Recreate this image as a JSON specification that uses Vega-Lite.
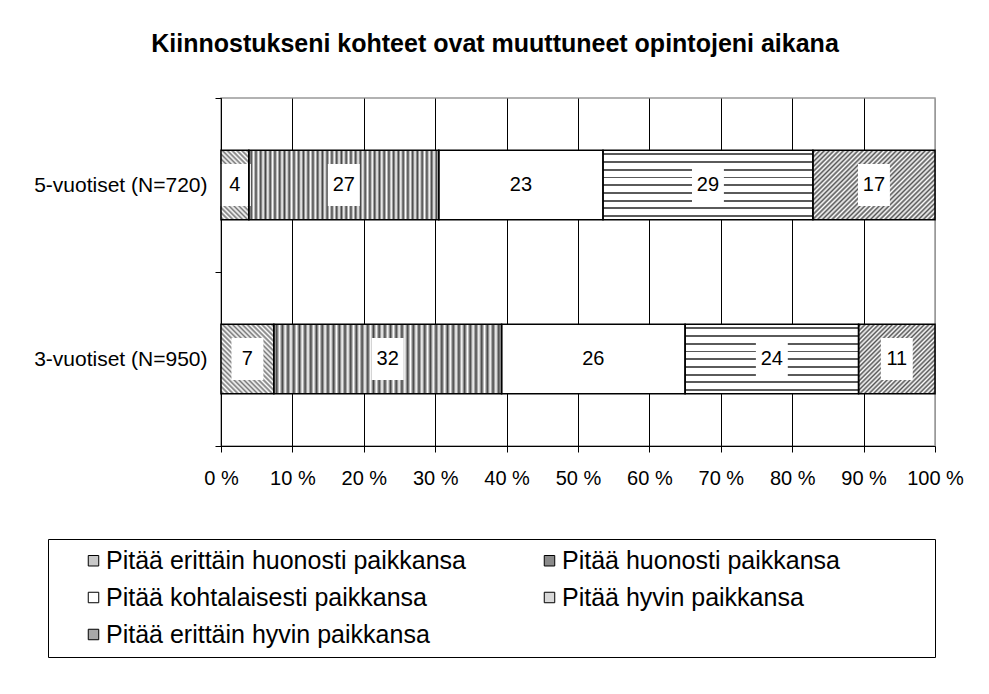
{
  "$schema": "https://vega.github.io/schema/vega-lite/v6.json",
  "width": 714,
  "height": 348,
  "autosize": {"type": "none"},
  "padding": {"left": 221, "top": 98, "right": 54, "bottom": 248},
  "background": "#ffffff",
  "config": {
    "font": "Liberation Sans",
    "view": {"stroke": "#999999", "strokeWidth": 1.5}
  },
  "title": {
    "text": "Kiinnostukseni kohteet ovat muuttuneet opintojeni aikana",
    "fontSize": 25,
    "fontWeight": "bold",
    "font": "Liberation Sans",
    "color": "#000000",
    "anchor": "middle",
    "frame": "group",
    "dx": -83,
    "offset": 30
  },
  "data": {
    "values": [
      {"group": "5-vuotiset (N=720)", "category": "Pitää erittäin huonosti paikkansa", "ord": 1, "pct": 3.9},
      {"group": "5-vuotiset (N=720)", "category": "Pitää huonosti paikkansa", "ord": 2, "pct": 26.6},
      {"group": "5-vuotiset (N=720)", "category": "Pitää kohtalaisesti paikkansa", "ord": 3, "pct": 23.0},
      {"group": "5-vuotiset (N=720)", "category": "Pitää hyvin paikkansa", "ord": 4, "pct": 29.4},
      {"group": "5-vuotiset (N=720)", "category": "Pitää erittäin hyvin paikkansa", "ord": 5, "pct": 17.1},
      {"group": "3-vuotiset (N=950)", "category": "Pitää erittäin huonosti paikkansa", "ord": 1, "pct": 7.4},
      {"group": "3-vuotiset (N=950)", "category": "Pitää huonosti paikkansa", "ord": 2, "pct": 31.9},
      {"group": "3-vuotiset (N=950)", "category": "Pitää kohtalaisesti paikkansa", "ord": 3, "pct": 25.7},
      {"group": "3-vuotiset (N=950)", "category": "Pitää hyvin paikkansa", "ord": 4, "pct": 24.3},
      {"group": "3-vuotiset (N=950)", "category": "Pitää erittäin hyvin paikkansa", "ord": 5, "pct": 10.7}
    ]
  },
  "transform": [
    {"stack": "pct", "groupby": ["group"], "sort": [{"field": "ord"}], "as": ["x0", "x1"]},
    {"calculate": "(datum.x0 + datum.x1) / 2", "as": "xm"}
  ],
  "encoding": {
    "y": {
      "field": "group", "type": "nominal",
      "sort": ["5-vuotiset (N=720)", "3-vuotiset (N=950)"],
      "scale": {"paddingInner": 0, "paddingOuter": 0},
      "axis": {
        "title": null, "domainColor": "#000000", "domainWidth": 1,
        "tickColor": "#000000", "tickSize": 6, "tickBand": "extent",
        "labelFontSize": 21, "labelColor": "#000000", "labelPadding": 8,
        "grid": false
      }
    },
    "x": {
      "field": "x0", "type": "quantitative",
      "scale": {"domain": [0, 100], "nice": false},
      "axis": {
        "title": null,
        "values": [0, 10, 20, 30, 40, 50, 60, 70, 80, 90, 100],
        "labelExpr": "datum.value + ' %'",
        "labelFlush": false,
        "labelFontSize": 20, "labelColor": "#000000", "labelPadding": 16,
        "domainColor": "#000000", "domainWidth": 1,
        "tickColor": "#000000", "tickSize": 6,
        "grid": true,
        "gridColor": {"condition": {"test": "datum.value === 100", "value": "#999999"}, "value": "#000000"},
        "gridWidth": 1, "gridOpacity": 1
      }
    },
    "x2": {"field": "x1"}
  },
  "layer": [
    {
      "transform": [{"filter": "datum.ord === 3"}],
      "mark": {"type": "bar", "height": {"band": 0.4}, "fill": "#ffffff", "strokeWidth": 0}
    },
    {
      "transform": [{"filter": "datum.ord === 2"}],
      "mark": {"type": "bar", "height": {"band": 0.4}, "strokeWidth": 0, "fill": {
        "gradient": "linear", "x1": 0, "y1": 0, "x2": 1, "y2": 0,
        "stops": [
          {"offset": 0, "color": "#fff"}, {"offset": 0.0125, "color": "#444"}, {"offset": 0.025, "color": "#fff"}, {"offset": 0.0375, "color": "#444"},
          {"offset": 0.05, "color": "#fff"}, {"offset": 0.0625, "color": "#444"}, {"offset": 0.075, "color": "#fff"}, {"offset": 0.0875, "color": "#444"},
          {"offset": 0.1, "color": "#fff"}, {"offset": 0.1125, "color": "#444"}, {"offset": 0.125, "color": "#fff"}, {"offset": 0.1375, "color": "#444"},
          {"offset": 0.15, "color": "#fff"}, {"offset": 0.1625, "color": "#444"}, {"offset": 0.175, "color": "#fff"}, {"offset": 0.1875, "color": "#444"},
          {"offset": 0.2, "color": "#fff"}, {"offset": 0.2125, "color": "#444"}, {"offset": 0.225, "color": "#fff"}, {"offset": 0.2375, "color": "#444"},
          {"offset": 0.25, "color": "#fff"}, {"offset": 0.2625, "color": "#444"}, {"offset": 0.275, "color": "#fff"}, {"offset": 0.2875, "color": "#444"},
          {"offset": 0.3, "color": "#fff"}, {"offset": 0.3125, "color": "#444"}, {"offset": 0.325, "color": "#fff"}, {"offset": 0.3375, "color": "#444"},
          {"offset": 0.35, "color": "#fff"}, {"offset": 0.3625, "color": "#444"}, {"offset": 0.375, "color": "#fff"}, {"offset": 0.3875, "color": "#444"},
          {"offset": 0.4, "color": "#fff"}, {"offset": 0.4125, "color": "#444"}, {"offset": 0.425, "color": "#fff"}, {"offset": 0.4375, "color": "#444"},
          {"offset": 0.45, "color": "#fff"}, {"offset": 0.4625, "color": "#444"}, {"offset": 0.475, "color": "#fff"}, {"offset": 0.4875, "color": "#444"},
          {"offset": 0.5, "color": "#fff"}, {"offset": 0.5125, "color": "#444"}, {"offset": 0.525, "color": "#fff"}, {"offset": 0.5375, "color": "#444"},
          {"offset": 0.55, "color": "#fff"}, {"offset": 0.5625, "color": "#444"}, {"offset": 0.575, "color": "#fff"}, {"offset": 0.5875, "color": "#444"},
          {"offset": 0.6, "color": "#fff"}, {"offset": 0.6125, "color": "#444"}, {"offset": 0.625, "color": "#fff"}, {"offset": 0.6375, "color": "#444"},
          {"offset": 0.65, "color": "#fff"}, {"offset": 0.6625, "color": "#444"}, {"offset": 0.675, "color": "#fff"}, {"offset": 0.6875, "color": "#444"},
          {"offset": 0.7, "color": "#fff"}, {"offset": 0.7125, "color": "#444"}, {"offset": 0.725, "color": "#fff"}, {"offset": 0.7375, "color": "#444"},
          {"offset": 0.75, "color": "#fff"}, {"offset": 0.7625, "color": "#444"}, {"offset": 0.775, "color": "#fff"}, {"offset": 0.7875, "color": "#444"},
          {"offset": 0.8, "color": "#fff"}, {"offset": 0.8125, "color": "#444"}, {"offset": 0.825, "color": "#fff"}, {"offset": 0.8375, "color": "#444"},
          {"offset": 0.85, "color": "#fff"}, {"offset": 0.8625, "color": "#444"}, {"offset": 0.875, "color": "#fff"}, {"offset": 0.8875, "color": "#444"},
          {"offset": 0.9, "color": "#fff"}, {"offset": 0.9125, "color": "#444"}, {"offset": 0.925, "color": "#fff"}, {"offset": 0.9375, "color": "#444"},
          {"offset": 0.95, "color": "#fff"}, {"offset": 0.9625, "color": "#444"}, {"offset": 0.975, "color": "#fff"}, {"offset": 0.9875, "color": "#444"},
          {"offset": 1, "color": "#fff"}
        ]
      }}
    },
    {
      "transform": [{"filter": "datum.ord === 4"}],
      "mark": {"type": "bar", "height": {"band": 0.4}, "strokeWidth": 0, "fill": {
        "gradient": "linear", "x1": 0, "y1": 0, "x2": 0, "y2": 1,
        "stops": [
          {"offset": 0.045, "color": "#fff"}, {"offset": 0.045, "color": "#5a5a5a"}, {"offset": 0.072, "color": "#5a5a5a"}, {"offset": 0.072, "color": "#fff"},
          {"offset": 0.1561, "color": "#fff"}, {"offset": 0.1561, "color": "#5a5a5a"}, {"offset": 0.1831, "color": "#5a5a5a"}, {"offset": 0.1831, "color": "#fff"},
          {"offset": 0.2672, "color": "#fff"}, {"offset": 0.2672, "color": "#5a5a5a"}, {"offset": 0.2942, "color": "#5a5a5a"}, {"offset": 0.2942, "color": "#fff"},
          {"offset": 0.3783, "color": "#fff"}, {"offset": 0.3783, "color": "#5a5a5a"}, {"offset": 0.4053, "color": "#5a5a5a"}, {"offset": 0.4053, "color": "#fff"},
          {"offset": 0.4894, "color": "#fff"}, {"offset": 0.4894, "color": "#5a5a5a"}, {"offset": 0.5164, "color": "#5a5a5a"}, {"offset": 0.5164, "color": "#fff"},
          {"offset": 0.6006, "color": "#fff"}, {"offset": 0.6006, "color": "#5a5a5a"}, {"offset": 0.6276, "color": "#5a5a5a"}, {"offset": 0.6276, "color": "#fff"},
          {"offset": 0.7117, "color": "#fff"}, {"offset": 0.7117, "color": "#5a5a5a"}, {"offset": 0.7387, "color": "#5a5a5a"}, {"offset": 0.7387, "color": "#fff"},
          {"offset": 0.8228, "color": "#fff"}, {"offset": 0.8228, "color": "#5a5a5a"}, {"offset": 0.8498, "color": "#5a5a5a"}, {"offset": 0.8498, "color": "#fff"},
          {"offset": 0.9339, "color": "#fff"}, {"offset": 0.9339, "color": "#5a5a5a"}, {"offset": 0.9609, "color": "#5a5a5a"}, {"offset": 0.9609, "color": "#fff"}
        ]
      }}
    },
    {
      "transform": [{"filter": "datum.ord === 1 && datum.group === '5-vuotiset (N=720)'"}],
      "mark": {"type": "bar", "height": {"band": 0.4}, "strokeWidth": 0, "fill": {
        "gradient": "linear", "x1": 0, "y1": 1, "x2": 0.482, "y2": -0.207,
        "stops": [
          {"offset": 0, "color": "#fff"}, {"offset": 0.025, "color": "#777"}, {"offset": 0.05, "color": "#fff"}, {"offset": 0.075, "color": "#777"},
          {"offset": 0.1, "color": "#fff"}, {"offset": 0.125, "color": "#777"}, {"offset": 0.15, "color": "#fff"}, {"offset": 0.175, "color": "#777"},
          {"offset": 0.2, "color": "#fff"}, {"offset": 0.225, "color": "#777"}, {"offset": 0.25, "color": "#fff"}, {"offset": 0.275, "color": "#777"},
          {"offset": 0.3, "color": "#fff"}, {"offset": 0.325, "color": "#777"}, {"offset": 0.35, "color": "#fff"}, {"offset": 0.375, "color": "#777"},
          {"offset": 0.4, "color": "#fff"}, {"offset": 0.425, "color": "#777"}, {"offset": 0.45, "color": "#fff"}, {"offset": 0.475, "color": "#777"},
          {"offset": 0.5, "color": "#fff"}, {"offset": 0.525, "color": "#777"}, {"offset": 0.55, "color": "#fff"}, {"offset": 0.575, "color": "#777"},
          {"offset": 0.6, "color": "#fff"}, {"offset": 0.625, "color": "#777"}, {"offset": 0.65, "color": "#fff"}, {"offset": 0.675, "color": "#777"},
          {"offset": 0.7, "color": "#fff"}, {"offset": 0.725, "color": "#777"}, {"offset": 0.75, "color": "#fff"}, {"offset": 0.775, "color": "#777"},
          {"offset": 0.8, "color": "#fff"}, {"offset": 0.825, "color": "#777"}, {"offset": 0.85, "color": "#fff"}, {"offset": 0.875, "color": "#777"},
          {"offset": 0.9, "color": "#fff"}, {"offset": 0.925, "color": "#777"}, {"offset": 0.95, "color": "#fff"}, {"offset": 0.975, "color": "#777"},
          {"offset": 1, "color": "#fff"}
        ]
      }}
    },
    {
      "transform": [{"filter": "datum.ord === 1 && datum.group === '3-vuotiset (N=950)'"}],
      "mark": {"type": "bar", "height": {"band": 0.4}, "strokeWidth": 0, "fill": {
        "gradient": "linear", "x1": 0, "y1": 1, "x2": 0.847, "y2": -0.116,
        "stops": [
          {"offset": 0, "color": "#fff"}, {"offset": 0.02, "color": "#777"}, {"offset": 0.04, "color": "#fff"}, {"offset": 0.06, "color": "#777"},
          {"offset": 0.08, "color": "#fff"}, {"offset": 0.1, "color": "#777"}, {"offset": 0.12, "color": "#fff"}, {"offset": 0.14, "color": "#777"},
          {"offset": 0.16, "color": "#fff"}, {"offset": 0.18, "color": "#777"}, {"offset": 0.2, "color": "#fff"}, {"offset": 0.22, "color": "#777"},
          {"offset": 0.24, "color": "#fff"}, {"offset": 0.26, "color": "#777"}, {"offset": 0.28, "color": "#fff"}, {"offset": 0.3, "color": "#777"},
          {"offset": 0.32, "color": "#fff"}, {"offset": 0.34, "color": "#777"}, {"offset": 0.36, "color": "#fff"}, {"offset": 0.38, "color": "#777"},
          {"offset": 0.4, "color": "#fff"}, {"offset": 0.42, "color": "#777"}, {"offset": 0.44, "color": "#fff"}, {"offset": 0.46, "color": "#777"},
          {"offset": 0.48, "color": "#fff"}, {"offset": 0.5, "color": "#777"}, {"offset": 0.52, "color": "#fff"}, {"offset": 0.54, "color": "#777"},
          {"offset": 0.56, "color": "#fff"}, {"offset": 0.58, "color": "#777"}, {"offset": 0.6, "color": "#fff"}, {"offset": 0.62, "color": "#777"},
          {"offset": 0.64, "color": "#fff"}, {"offset": 0.66, "color": "#777"}, {"offset": 0.68, "color": "#fff"}, {"offset": 0.7, "color": "#777"},
          {"offset": 0.72, "color": "#fff"}, {"offset": 0.74, "color": "#777"}, {"offset": 0.76, "color": "#fff"}, {"offset": 0.78, "color": "#777"},
          {"offset": 0.8, "color": "#fff"}, {"offset": 0.82, "color": "#777"}, {"offset": 0.84, "color": "#fff"}, {"offset": 0.86, "color": "#777"},
          {"offset": 0.88, "color": "#fff"}, {"offset": 0.9, "color": "#777"}, {"offset": 0.92, "color": "#fff"}, {"offset": 0.94, "color": "#777"},
          {"offset": 0.96, "color": "#fff"}, {"offset": 0.98, "color": "#777"}, {"offset": 1, "color": "#fff"}
        ]
      }}
    },
    {
      "transform": [{"filter": "datum.ord === 5 && datum.group === '5-vuotiset (N=720)'"}],
      "mark": {"type": "bar", "height": {"band": 0.4}, "strokeWidth": 0, "fill": {
        "gradient": "linear", "x1": 0, "y1": 0, "x2": 1.184, "y2": 0.679,
        "stops": [
          {"offset": 0, "color": "#fff"}, {"offset": 0.0125, "color": "#555"}, {"offset": 0.025, "color": "#fff"}, {"offset": 0.0375, "color": "#555"},
          {"offset": 0.05, "color": "#fff"}, {"offset": 0.0625, "color": "#555"}, {"offset": 0.075, "color": "#fff"}, {"offset": 0.0875, "color": "#555"},
          {"offset": 0.1, "color": "#fff"}, {"offset": 0.1125, "color": "#555"}, {"offset": 0.125, "color": "#fff"}, {"offset": 0.1375, "color": "#555"},
          {"offset": 0.15, "color": "#fff"}, {"offset": 0.1625, "color": "#555"}, {"offset": 0.175, "color": "#fff"}, {"offset": 0.1875, "color": "#555"},
          {"offset": 0.2, "color": "#fff"}, {"offset": 0.2125, "color": "#555"}, {"offset": 0.225, "color": "#fff"}, {"offset": 0.2375, "color": "#555"},
          {"offset": 0.25, "color": "#fff"}, {"offset": 0.2625, "color": "#555"}, {"offset": 0.275, "color": "#fff"}, {"offset": 0.2875, "color": "#555"},
          {"offset": 0.3, "color": "#fff"}, {"offset": 0.3125, "color": "#555"}, {"offset": 0.325, "color": "#fff"}, {"offset": 0.3375, "color": "#555"},
          {"offset": 0.35, "color": "#fff"}, {"offset": 0.3625, "color": "#555"}, {"offset": 0.375, "color": "#fff"}, {"offset": 0.3875, "color": "#555"},
          {"offset": 0.4, "color": "#fff"}, {"offset": 0.4125, "color": "#555"}, {"offset": 0.425, "color": "#fff"}, {"offset": 0.4375, "color": "#555"},
          {"offset": 0.45, "color": "#fff"}, {"offset": 0.4625, "color": "#555"}, {"offset": 0.475, "color": "#fff"}, {"offset": 0.4875, "color": "#555"},
          {"offset": 0.5, "color": "#fff"}, {"offset": 0.5125, "color": "#555"}, {"offset": 0.525, "color": "#fff"}, {"offset": 0.5375, "color": "#555"},
          {"offset": 0.55, "color": "#fff"}, {"offset": 0.5625, "color": "#555"}, {"offset": 0.575, "color": "#fff"}, {"offset": 0.5875, "color": "#555"},
          {"offset": 0.6, "color": "#fff"}, {"offset": 0.6125, "color": "#555"}, {"offset": 0.625, "color": "#fff"}, {"offset": 0.6375, "color": "#555"},
          {"offset": 0.65, "color": "#fff"}, {"offset": 0.6625, "color": "#555"}, {"offset": 0.675, "color": "#fff"}, {"offset": 0.6875, "color": "#555"},
          {"offset": 0.7, "color": "#fff"}, {"offset": 0.7125, "color": "#555"}, {"offset": 0.725, "color": "#fff"}, {"offset": 0.7375, "color": "#555"},
          {"offset": 0.75, "color": "#fff"}, {"offset": 0.7625, "color": "#555"}, {"offset": 0.775, "color": "#fff"}, {"offset": 0.7875, "color": "#555"},
          {"offset": 0.8, "color": "#fff"}, {"offset": 0.8125, "color": "#555"}, {"offset": 0.825, "color": "#fff"}, {"offset": 0.8375, "color": "#555"},
          {"offset": 0.85, "color": "#fff"}, {"offset": 0.8625, "color": "#555"}, {"offset": 0.875, "color": "#fff"}, {"offset": 0.8875, "color": "#555"},
          {"offset": 0.9, "color": "#fff"}, {"offset": 0.9125, "color": "#555"}, {"offset": 0.925, "color": "#fff"}, {"offset": 0.9375, "color": "#555"},
          {"offset": 0.95, "color": "#fff"}, {"offset": 0.9625, "color": "#555"}, {"offset": 0.975, "color": "#fff"}, {"offset": 0.9875, "color": "#555"},
          {"offset": 1, "color": "#fff"}
        ]
      }}
    },
    {
      "transform": [{"filter": "datum.ord === 5 && datum.group === '3-vuotiset (N=950)'"}],
      "mark": {"type": "bar", "height": {"band": 0.4}, "strokeWidth": 0, "fill": {
        "gradient": "linear", "x1": 0, "y1": 0, "x2": 1.044, "y2": 0.951,
        "stops": [
          {"offset": 0, "color": "#fff"}, {"offset": 0.0156, "color": "#555"}, {"offset": 0.0313, "color": "#fff"}, {"offset": 0.0469, "color": "#555"},
          {"offset": 0.0625, "color": "#fff"}, {"offset": 0.0781, "color": "#555"}, {"offset": 0.0938, "color": "#fff"}, {"offset": 0.1094, "color": "#555"},
          {"offset": 0.125, "color": "#fff"}, {"offset": 0.1406, "color": "#555"}, {"offset": 0.1563, "color": "#fff"}, {"offset": 0.1719, "color": "#555"},
          {"offset": 0.1875, "color": "#fff"}, {"offset": 0.2031, "color": "#555"}, {"offset": 0.2188, "color": "#fff"}, {"offset": 0.2344, "color": "#555"},
          {"offset": 0.25, "color": "#fff"}, {"offset": 0.2656, "color": "#555"}, {"offset": 0.2813, "color": "#fff"}, {"offset": 0.2969, "color": "#555"},
          {"offset": 0.3125, "color": "#fff"}, {"offset": 0.3281, "color": "#555"}, {"offset": 0.3438, "color": "#fff"}, {"offset": 0.3594, "color": "#555"},
          {"offset": 0.375, "color": "#fff"}, {"offset": 0.3906, "color": "#555"}, {"offset": 0.4063, "color": "#fff"}, {"offset": 0.4219, "color": "#555"},
          {"offset": 0.4375, "color": "#fff"}, {"offset": 0.4531, "color": "#555"}, {"offset": 0.4688, "color": "#fff"}, {"offset": 0.4844, "color": "#555"},
          {"offset": 0.5, "color": "#fff"}, {"offset": 0.5156, "color": "#555"}, {"offset": 0.5313, "color": "#fff"}, {"offset": 0.5469, "color": "#555"},
          {"offset": 0.5625, "color": "#fff"}, {"offset": 0.5781, "color": "#555"}, {"offset": 0.5938, "color": "#fff"}, {"offset": 0.6094, "color": "#555"},
          {"offset": 0.625, "color": "#fff"}, {"offset": 0.6406, "color": "#555"}, {"offset": 0.6563, "color": "#fff"}, {"offset": 0.6719, "color": "#555"},
          {"offset": 0.6875, "color": "#fff"}, {"offset": 0.7031, "color": "#555"}, {"offset": 0.7188, "color": "#fff"}, {"offset": 0.7344, "color": "#555"},
          {"offset": 0.75, "color": "#fff"}, {"offset": 0.7656, "color": "#555"}, {"offset": 0.7813, "color": "#fff"}, {"offset": 0.7969, "color": "#555"},
          {"offset": 0.8125, "color": "#fff"}, {"offset": 0.8281, "color": "#555"}, {"offset": 0.8438, "color": "#fff"}, {"offset": 0.8594, "color": "#555"},
          {"offset": 0.875, "color": "#fff"}, {"offset": 0.8906, "color": "#555"}, {"offset": 0.9063, "color": "#fff"}, {"offset": 0.9219, "color": "#555"},
          {"offset": 0.9375, "color": "#fff"}, {"offset": 0.9531, "color": "#555"}, {"offset": 0.9688, "color": "#fff"}, {"offset": 0.9844, "color": "#555"},
          {"offset": 1, "color": "#fff"}
        ]
      }}
    },
    {
      "mark": {"type": "point", "shape": "M-0.76,-1H0.76V1H-0.76Z", "size": 1764, "filled": true, "fill": "#ffffff", "opacity": 1, "strokeWidth": 0},
      "encoding": {"x": {"field": "xm", "type": "quantitative"}}
    },
    {
      "mark": {"type": "bar", "height": {"band": 0.4}, "fillOpacity": 0, "stroke": "#000000", "strokeWidth": 1.5},
      "encoding": {
        "fill": {
          "field": "category", "type": "nominal",
          "scale": {
            "domain": ["Pitää erittäin huonosti paikkansa", "Pitää huonosti paikkansa", "Pitää kohtalaisesti paikkansa", "Pitää hyvin paikkansa", "Pitää erittäin hyvin paikkansa"],
            "range": ["#c8c8c8", "#8a8a8a", "#ffffff", "#d8d8d8", "#a8a8a8"]
          },
          "legend": {
            "title": "\u00a0",
            "titleOrient": "right",
            "titleFontSize": 1,
            "titlePadding": 86,
            "orient": "none",
            "legendX": -173,
            "legendY": 441,
            "direction": "horizontal",
            "columns": 2,
            "gridAlign": "each",
            "symbolType": "square",
            "symbolSize": 110,
            "symbolStrokeColor": "#000000",
            "symbolStrokeWidth": 1,
            "symbolOpacity": 1,
            "symbolOffset": 24,
            "labelFontSize": 25,
            "labelColor": "#000000",
            "labelOffset": 0,
            "labelLimit": 0,
            "columnPadding": 47,
            "rowPadding": 11,
            "padding": 9,
            "strokeColor": "#000000",
            "fillColor": "#ffffff",
            "encode": {"symbols": {"update": {
              "fillOpacity": {"value": 1},
              "opacity": {"value": 1},
              "stroke": {"value": "#000000"},
              "strokeWidth": {"value": 1},
              "fill": {"signal": "datum.value === 'Pitää huonosti paikkansa' ? {gradient: 'linear', x1: 0, y1: 0, x2: 1, y2: 0, stops: [{offset: 0, color: '#333'}, {offset: 0.3, color: '#333'}, {offset: 0.3, color: '#fff'}, {offset: 0.42, color: '#fff'}, {offset: 0.42, color: '#333'}, {offset: 0.58, color: '#333'}, {offset: 0.58, color: '#fff'}, {offset: 0.7, color: '#fff'}, {offset: 0.7, color: '#333'}, {offset: 1, color: '#333'}]} : datum.value === 'Pitää hyvin paikkansa' ? {gradient: 'linear', x1: 0, y1: 0, x2: 0, y2: 1, stops: [{offset: 0.42, color: '#fff'}, {offset: 0.42, color: '#333'}, {offset: 0.58, color: '#333'}, {offset: 0.58, color: '#fff'}]} : scale('fill', datum.value)"}
            }}}
          }
        }
      }
    },
    {
      "mark": {"type": "text", "fontSize": 20, "color": "#000000", "align": "center", "baseline": "middle"},
      "encoding": {
        "x": {"field": "xm", "type": "quantitative"},
        "text": {"field": "pct", "type": "quantitative", "format": ".0f"}
      }
    }
  ]
}
